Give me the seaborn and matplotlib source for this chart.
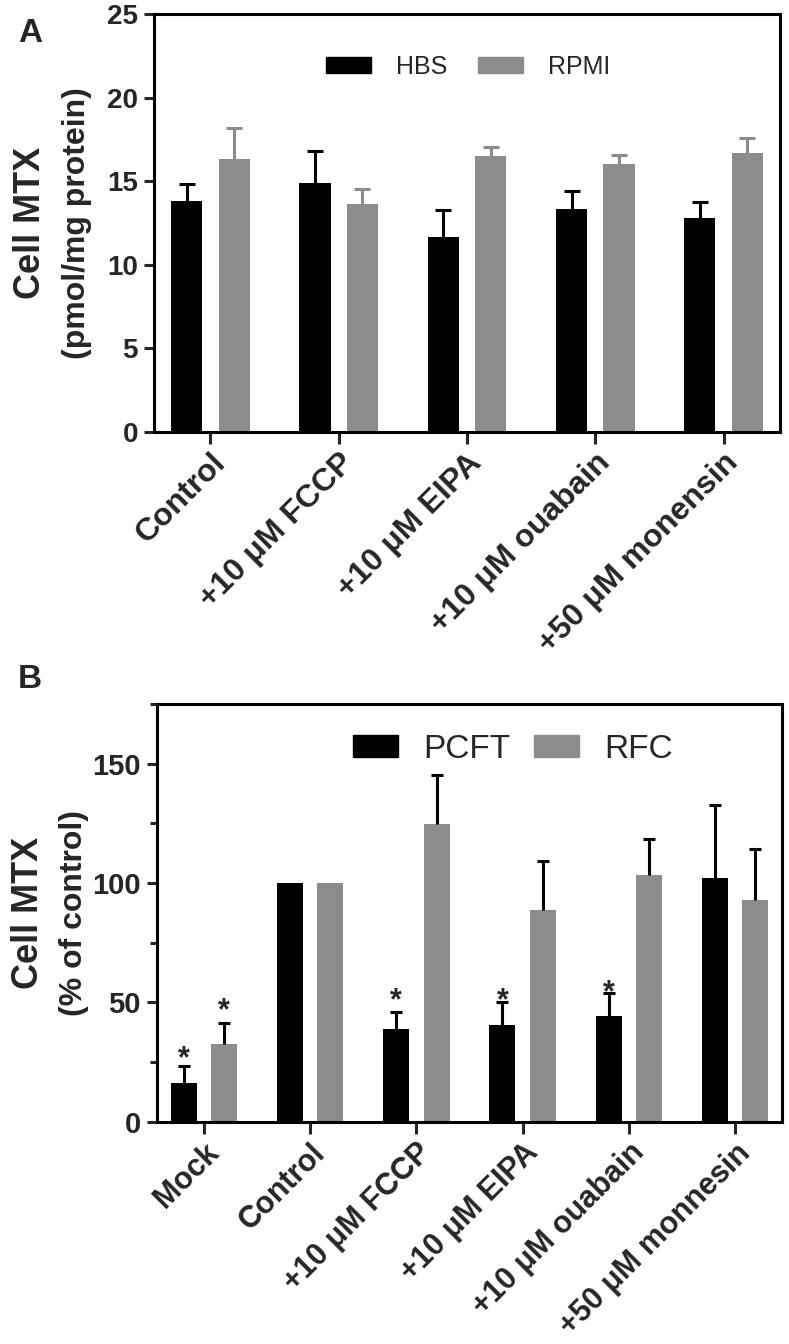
import numpy as np
import pandas as pd
import matplotlib
matplotlib.use("Agg")
import matplotlib.pyplot as plt
import seaborn as sns
from matplotlib.patches import Patch
from matplotlib.ticker import MultipleLocator

# ---------------- data ----------------
a_categories = ["Control", "+10 μM FCCP", "+10 μM EIPA", "+10 μM ouabain", "+50 μM monensin"]
a_series = ["HBS", "RPMI"]
a_hbs = [13.8, 14.9, 11.65, 13.3, 12.8]
a_hbs_err = [1.05, 1.9, 1.6, 1.1, 0.95]
a_rpmi = [16.3, 13.6, 16.5, 16.05, 16.7]
a_rpmi_err = [1.85, 0.9, 0.55, 0.5, 0.85]
a_yticks = [0, 5, 10, 15, 20, 25]
a_ylabel = ["Cell MTX", "(pmol/mg protein)"]

b_categories = ["Mock", "Control", "+10 μM FCCP", "+10 μM EIPA", "+10 μM ouabain", "+50 μM monnesin"]
b_series = ["PCFT", "RFC"]
b_pcft = [16.2, 100, 38.9, 40.4, 44.3, 102.0]
b_pcft_err = [7.0, 0, 7.2, 9.9, 9.7, 30.6]
b_rfc = [32.7, 100, 124.7, 88.9, 103.2, 92.7]
b_rfc_err = [8.5, 0, 20.6, 20.2, 15.2, 21.7]
b_pcft_star = [30.0, np.nan, 54.0, 54.0, 57.3, np.nan]
b_rfc_star = [49.7, np.nan, np.nan, np.nan, np.nan, np.nan]
b_yticks = [0, 50, 100, 150]
b_ylabel = ["Cell MTX", "(% of control)"]

BLACK = "#000000"
GRAY = "#8c8c8c"

sns.set_style("ticks")
plt.rcParams["font.family"] = ["Liberation Sans", "DejaVu Sans"]

W, H = 789, 1344
fig = plt.figure(figsize=(W / 100, H / 100), dpi=100)
axA = fig.add_axes([154 / W, 1 - 431.7 / H, 626 / W, 417.7 / H])
axB = fig.add_axes([157 / W, 1 - 1121.7 / H, 625 / W, 417.7 / H])


def draw_panel(ax, cats, series, v1, e1, v2, e2, err_colors, width, gap, capsize):
    df = pd.DataFrame({
        "cat": list(cats) * 2,
        "series": [series[0]] * len(cats) + [series[1]] * len(cats),
        "val": list(v1) + list(v2),
    })
    sns.barplot(data=df, x="cat", y="val", hue="series", order=cats,
                hue_order=series, palette=[BLACK, GRAY], width=width, gap=gap,
                errorbar=None, saturation=1, ax=ax, legend=False, linewidth=0)
    centers = []
    for cont, errs, col in zip(ax.containers, [e1, e2], err_colors):
        xs, ys, es = [], [], []
        cx = []
        for bar, err in zip(cont, errs):
            x = bar.get_x() + bar.get_width() / 2
            cx.append(x)
            if err > 0:
                xs.append(x); ys.append(bar.get_height()); es.append(err)
        centers.append(cx)
        ys = np.array(ys); es = np.array(es)
        # upper-only error bars: stem from bar top + cap at the end
        ax.vlines(xs, ys, ys + es, colors=col, linewidth=2.2, zorder=1)
        ax.plot(xs, ys + es, linestyle="none", marker="_", markersize=2 * capsize,
                markeredgewidth=2.2, color=col, zorder=1)
    for sp in ax.spines.values():
        sp.set_visible(True)
        sp.set_linewidth(2.2)
        sp.set_color("black")
    ax.set_xlabel("")
    ax.set_ylabel("")
    ax.set_xlim(-0.44, len(cats) - 1 + 0.44)
    return centers


def two_line_ylabel(ax, lines, x1, x2):
    bb = ax.get_position()
    yc = (bb.y0 + bb.y1) / 2
    fig.text(x1 / W, yc, lines[0], rotation=90, ha="center", va="center",
             fontsize=26, fontweight="bold")
    fig.text(x2 / W, yc, lines[1], rotation=90, ha="center", va="center",
             fontsize=23, fontweight="bold")


# ---------------- panel A ----------------
draw_panel(axA, a_categories, a_series, a_hbs, a_hbs_err, a_rpmi, a_rpmi_err,
           [BLACK, GRAY], 0.74, 0.34, 5.8)
axA.set_ylim(0, 25)
axA.set_yticks(a_yticks)
axA.tick_params(axis="y", width=2.2, length=7.5, labelsize=20, pad=4)
axA.tick_params(axis="x", width=2.2, length=8.5, labelsize=23, pad=3)
for lab in axA.get_yticklabels():
    lab.set_fontweight("bold")
axA.set_xticks(range(len(a_categories)))
axA.set_xticklabels(a_categories, rotation=45, ha="right", rotation_mode="anchor",
                    fontweight="bold")
two_line_ylabel(axA, a_ylabel, 31, 77)
axA.legend(handles=[Patch(color=BLACK, label=a_series[0]), Patch(color=GRAY, label=a_series[1])],
           loc="center", bbox_to_anchor=(0.502, 0.873), ncol=2, frameon=False,
           fontsize=18, handlelength=1.8, handleheight=0.6, handletextpad=1.0,
           columnspacing=1.24, borderpad=0)

# ---------------- panel B ----------------
centers = draw_panel(axB, b_categories, b_series, b_pcft, b_pcft_err, b_rfc, b_rfc_err,
                     [BLACK, BLACK], 0.76, 0.355, 4.6)
axB.set_ylim(0, 175)
axB.set_yticks(b_yticks)
axB.yaxis.set_minor_locator(MultipleLocator(25))
axB.tick_params(axis="y", which="major", width=2.2, length=7.5, labelsize=21, pad=4)
axB.tick_params(axis="y", which="minor", width=2.2, length=5)
axB.tick_params(axis="x", width=2.2, length=8.5, labelsize=22, pad=3)
for lab in axB.get_yticklabels():
    lab.set_fontweight("bold")
axB.set_xticks(range(len(b_categories)))
axB.set_xticklabels(b_categories, rotation=45, ha="right", rotation_mode="anchor",
                    fontweight="bold")
two_line_ylabel(axB, b_ylabel, 28, 74)
axB.legend(handles=[Patch(color=BLACK, label=b_series[0]), Patch(color=GRAY, label=b_series[1])],
           loc="center", bbox_to_anchor=(0.569, 0.892), ncol=2, frameon=False,
           fontsize=24, handlelength=1.35, handleheight=0.66, handletextpad=0.75,
           columnspacing=0.72, borderpad=0)

for cx, stars in zip(centers, [b_pcft_star, b_rfc_star]):
    for x, s in zip(cx, stars):
        if not np.isnan(s):
            axB.annotate("*", xy=(x, s), xytext=(0, -12), textcoords="offset points",
                         ha="center", va="baseline", fontsize=22, fontweight="bold",
                         zorder=3)

fig.text(18 / W, 1 - 33 / H, "A", fontsize=24, fontweight="bold", va="center", ha="left")
fig.text(18 / W, 1 - 680 / H, "B", fontsize=24, fontweight="bold", va="center", ha="left")

fig.savefig("out.png", dpi=100)
